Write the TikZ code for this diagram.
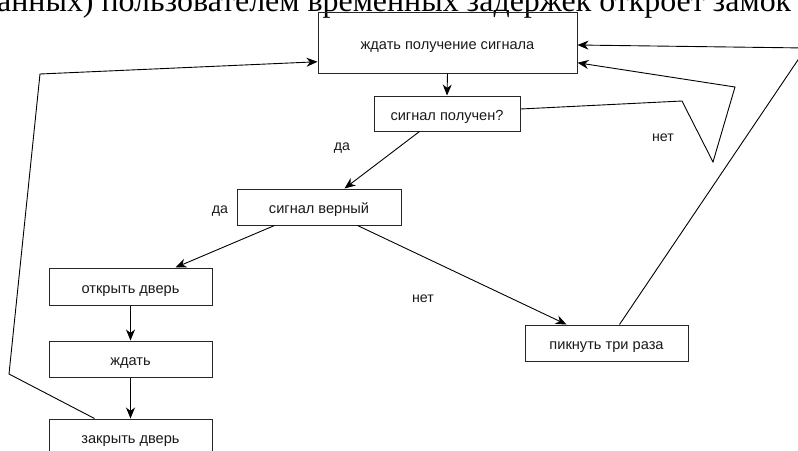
\documentclass[tikz,border=0pt]{standalone}
\usepackage{fontspec}
\setmainfont{Liberation Serif}
\newfontfamily\lsans{Liberation Sans}
\usetikzlibrary{arrows.meta}
\begin{document}
\begin{tikzpicture}[x=1pt,y=-1pt,
  box/.style={draw=black!85, line width=1pt, rectangle, inner sep=0pt, text height=13pt, text depth=0pt, font=\lsans\fontsize{14.6}{16}\selectfont, text=black!90},
  lbl/.style={inner sep=0pt, font=\lsans\fontsize{14.2}{16}\selectfont, text=black!90},
  conn/.style={draw=black, line width=0.9pt},
  arr/.style={conn, -{Stealth[length=11pt,width=9pt,inset=3.5pt]}},
]
\useasboundingbox (0,0) rectangle (798,450);
\node[anchor=base west, inner sep=0pt] (title) at (-3,11.5) {\resizebox{794pt}{!}{анных) пользователем временных задержек откроет замок}};

\node[box, minimum width=259pt, minimum height=60.5pt] (b1) at (447.5,42.75) {ждать получение сигнала};
\node[box, minimum width=146pt, minimum height=35pt] (b2) at (447,113.5) {сигнал получен?};
\node[box, minimum width=164pt, minimum height=36pt] (b3) at (319,207) {сигнал верный};
\node[box, minimum width=163pt, minimum height=37pt] (b4) at (130.5,286.5) {открыть дверь};
\node[box, minimum width=163pt, minimum height=36pt] (b5) at (130.5,359) {ждать};
\node[box, minimum width=163pt, minimum height=36pt] (b6) at (130.5,437) {закрыть дверь};
\node[box, minimum width=163pt, minimum height=36pt] (b7) at (606.5,343) {пикнуть три раза};

\coordinate (c1) at (806,48);
\coordinate (c2) at (682,101);
\coordinate (c3) at (713,162);
\coordinate (c4) at (735,87);
\coordinate (c5) at (9,374);
\coordinate (c6) at (40,74);

\draw[arr] (b1.south) -- (b2.north);
\draw[arr] ([xshift=46pt]b2.south west) -- ([xshift=108pt]b3.north west);
\draw[arr] ([xshift=38pt]b3.south west) -- ([xshift=127pt]b4.north west);
\draw[arr] ([xshift=121pt]b3.south west) -- ([xshift=42pt]b7.north west);
\draw[arr] (b4.south) -- (b5.north);
\draw[arr] (b5.south) -- (b6.north);
\draw[arr] ([xshift=95pt]b7.north west) -- (c1) -- ([yshift=-2.25pt]b1.east);
\draw[arr] ([yshift=4.5pt]b2.east) -- (c2) -- (c3) -- (c4) -- ([yshift=-20pt]b1.east);
\draw[arr] ([xshift=46pt]b6.north west) -- (c5) -- (c6) -- ([yshift=-19pt]b1.west);

\node[lbl] (l1) at (342,148) {да};
\node[lbl] (l2) at (220,211) {да};
\node[lbl] (l3) at (423,299) {нет};
\node[lbl] (l4) at (663,138) {нет};
\end{tikzpicture}
\end{document}
